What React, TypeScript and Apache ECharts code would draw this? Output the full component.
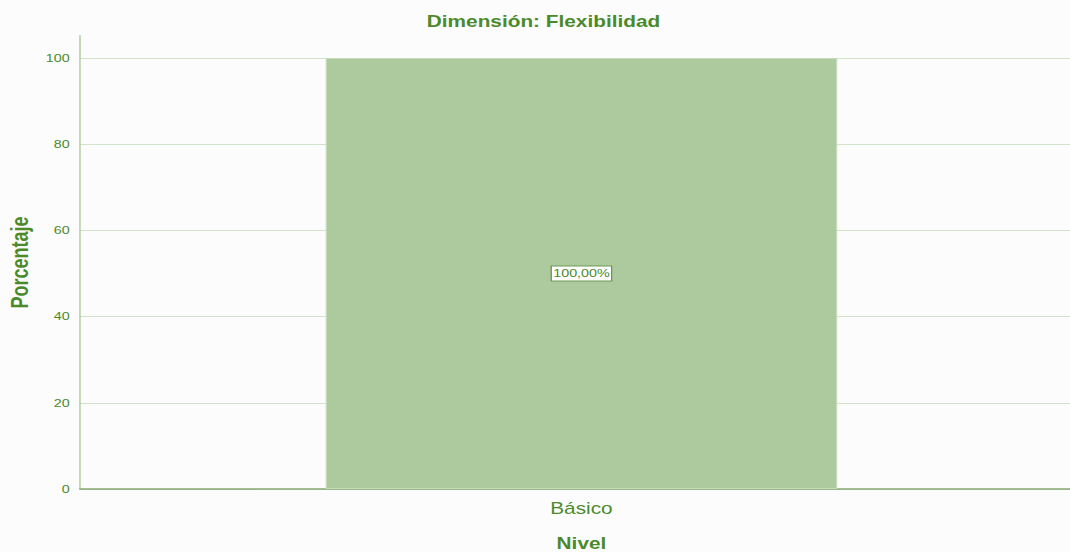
import React, { useEffect, useRef } from "react";
import * as echarts from "echarts";

const categories = ["Básico"];
const percentages = [100];
const valueLabels = ["100,00%"];
const yTicks = [0, 20, 40, 60, 80, 100];

const GREEN = "#4b8a2b";
const FONT = "Liberation Sans, Arial, sans-serif";
const SX = 1.3; // horizontal stretch of the reference rendering

export default function App() {
  const ref = useRef<HTMLDivElement>(null);
  useEffect(() => {
    if (!ref.current) return;
    const chart = echarts.init(ref.current, null, { renderer: "svg" });
    const gl = 80 / SX;
    chart.setOption({
      animation: false,
      backgroundColor: "#fcfcfc",
      title: {
        text: "Dimensión: Flexibilidad",
        left: 537 / SX,
        top: 8,
        textAlign: "center",
        textStyle: { color: GREEN, fontSize: 16, fontWeight: "bold", fontFamily: FONT },
      },
      grid: { left: gl, right: 0, top: 58, bottom: 63, containLabel: false, outerBoundsMode: "none" },
      xAxis: {
        type: "category",
        data: categories,
        name: "Nivel",
        nameLocation: "middle",
        nameGap: 46,
        nameTextStyle: { color: GREEN, fontSize: 16, fontWeight: "bold", fontFamily: FONT },
        axisLine: { show: true, lineStyle: { color: "#86a874", width: 1.5 } },
        axisTick: { show: false },
        axisLabel: { color: GREEN, fontSize: 16, margin: 11, fontFamily: FONT },
      },
      yAxis: {
        type: "value",
        min: yTicks[0],
        max: yTicks[yTicks.length - 1],
        interval: 20,
        name: "Porcentaje",
        nameLocation: "middle",
        nameGap: 33.5,
        nameRotate: 90,
        nameTextStyle: {
          color: GREEN,
          fontSize: 18,
          fontWeight: "bold",
          fontFamily: FONT,
          padding: [0, 0, 0, 22],
        },
        axisLine: { show: true, lineStyle: { color: "#b5cfa6", width: 1.2 } },
        axisTick: { show: false },
        axisLabel: { color: GREEN, fontSize: 11, margin: 8, fontFamily: FONT },
        splitLine: { show: true, lineStyle: { color: "#d3e3c9", width: 1 } },
      },
      graphic: [
        {
          type: "line",
          shape: { x1: gl, y1: 35, x2: gl, y2: 58 },
          style: { stroke: "#b5cfa6", lineWidth: 1.2 },
        },
      ],
      series: [
        {
          type: "bar",
          data: percentages,
          barWidth: "51%",
          itemStyle: { color: "#adc99e", borderColor: "#c4dab8", borderWidth: 1 },
          label: {
            show: true,
            position: "inside",
            formatter: (p: any) => valueLabels[p.dataIndex],
            color: GREEN,
            fontSize: 11,
            fontFamily: FONT,
            backgroundColor: "#ffffff",
            borderColor: "#6a9a50",
            borderWidth: 1,
            padding: [2, 1, 1, 1],
          },
        },
      ],
    });
    return () => chart.dispose();
  }, []);
  return (
    <div style={{ position: "absolute", left: 0, top: 0, width: 1070, height: 552, overflow: "hidden" }}>
      <div
        ref={ref}
        style={{ width: Math.round(1083 / SX), height: 552, transform: `scaleX(${SX})`, transformOrigin: "0 0" }}
      />
    </div>
  );
}
